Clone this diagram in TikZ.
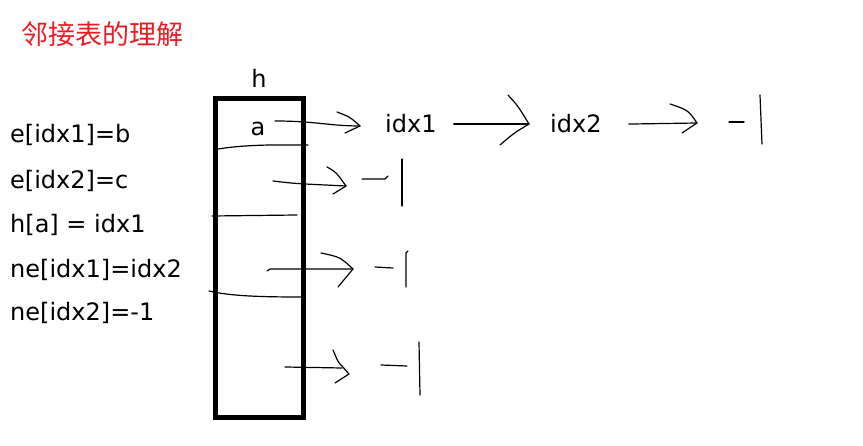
\documentclass[tikz,border=0pt]{standalone}
\usepackage{fontspec}
\setmainfont{DejaVu Sans}
\newfontfamily\cjkfont{Noto Sans CJK SC}
\usetikzlibrary{positioning}
\definecolor{titlered}{RGB}{237,28,36}

\tikzset{
  pen/.style={line width=1.2pt, line cap=round, line join=round},
  code/.style={anchor=base west, inner sep=0pt, font=\fontsize{24}{28}\selectfont},
  lbl/.style={inner sep=0pt, font=\fontsize{24}{28}\selectfont},
  headbox/.style={draw, line width=5pt, minimum width=88pt, minimum height=319pt, inner sep=0pt},
  heading/.style={text=titlered, inner sep=0pt, font=\cjkfont\fontsize{27}{31}\selectfont},
}

\begin{document}
\begin{tikzpicture}[x=1pt,y=-1pt]
  \useasboundingbox (0,0) rectangle (863,446);

  % Title
  \node[heading] (title) at (102.5,34) {邻接表的理解};

  % Code lines
  \node[code] (e1)  at (10,143) {e[idx1]=b};
  \node[code] (e2)  at (10,189) {e[idx2]=c};
  \node[code] (ha)  at (10,233) {h[a] = idx1};
  \node[code] (ne1) at (10,278) {ne[idx1]=idx2};
  \node[code] (ne2) at (10,321) {ne[idx2]=-1};

  % Head array h
  \node[headbox] (hbox) at (259,258.5) {};
  \node[lbl, above=8.5pt of hbox] (hlabel) {h};
  \node[lbl, anchor=base] (a) at (258,136) {a};

  % Dividers
  \draw[pen] (218,149) .. controls (250,144) and (280,145) .. (308,145);
  \draw[pen] (212,216) -- (297,215);
  \draw[pen] (209,291) .. controls (230,296) and (260,297) .. (301,297);

  % Chain from a
  \node[code] (idx1) at (385,133) {idx1};
  \node[code] (idx2) at (550,133) {idx2};

  \coordinate (a-out) at (275,121);
  \coordinate (a-tip) at (360,126);
  \draw[pen] (a-out) .. controls (315,121) and (330,126) .. (a-tip);
  \draw[pen] (337,112) .. controls (350,117) .. (a-tip) -- (345,133);

  \coordinate (idx1-tip) at ([xshift=-21pt]idx2.west);
  \draw[pen] ([xshift=17pt]idx1.east) -- (idx1-tip);
  \draw[pen] (508,95) .. controls (518,106) .. (idx1-tip) .. controls (514,133) .. (500,145);

  \coordinate (idx2-tip) at (697,123);
  \draw[pen] ([xshift=27pt]idx2.east) -- (idx2-tip);
  \draw[pen] (670,104) .. controls (688,110) .. (idx2-tip) -- (682,133);

  % -1 marks
  \draw[pen] (729,122) -- (744,122);
  \draw[pen] (760,95) -- (762,144);

  % Row 2
  \coordinate (r2-out) at (273,181);
  \coordinate (r2-tip) at (346,186);
  \draw[pen] (r2-out) .. controls (290,183) .. (305,184) -- (r2-tip);
  \draw[pen] (327,167) .. controls (336,172) .. (r2-tip) -- (333,194);
  \draw[pen] (362,179) -- (385,179) -- (388,176);
  \draw[pen] (402,159) -- (402,206);

  % Row 3
  \coordinate (r3-out) at (267,271);
  \coordinate (r3-tip) at (353,269);
  \draw[pen] (r3-out) -- (270,269) -- (r3-tip);
  \draw[pen] (321,253) .. controls (340,257) .. (r3-tip) -- (338,287);
  \draw[pen] (375,267) -- (393,268);
  \draw[pen] (408,251) -- (406,253) -- (406,287);

  % Row 4
  \coordinate (r4-out) at (285,367);
  \coordinate (r4-tip) at (349,374);
  \draw[pen] (r4-out) -- (342,368);
  \draw[pen] (333,350) .. controls (338,362) .. (342,366) -- (r4-tip) -- (335,383);
  \draw[pen] (381,365) -- (407,366);
  \draw[pen] (419,342) -- (420,395);
\end{tikzpicture}
\end{document}
